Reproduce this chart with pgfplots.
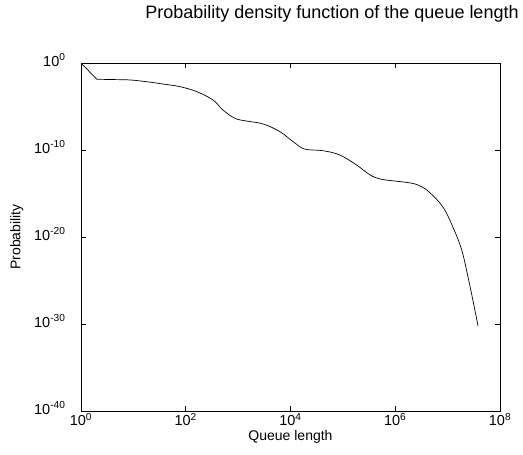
\documentclass[border=0pt]{standalone}
\usepackage{pgfplots}
\pgfplotsset{compat=1.18}
\usepackage{fontspec}
\setmainfont{Liberation Sans}
\begin{document}
\begin{tikzpicture}
\begin{loglogaxis}[
  scale only axis, width=419pt, height=348pt,
  xmin=1, xmax=1e8, ymin=1e-40, ymax=1,
  xtick={1,1e2,1e4,1e6,1e8},
  xticklabels={10\textsuperscript{0},10\textsuperscript{2},10\textsuperscript{4},10\textsuperscript{6},10\textsuperscript{8}},
  ytick={1e-40,1e-30,1e-20,1e-10,1},
  yticklabels={10\textsuperscript{-40},10\textsuperscript{-30},10\textsuperscript{-20},10\textsuperscript{-10},10\textsuperscript{0}},
  xminorticks=false, yminorticks=false,
  tick align=inside, major tick length=5pt,
  tick style={black, line width=0.6pt},
  axis line style={black, line width=0.8pt},
  ticklabel style={font=\fontsize{14.5}{16}\selectfont},
  yticklabel style={xshift=-12pt, yshift=3pt},
  xticklabel style={yshift=1pt},
  xlabel={Queue length}, ylabel={Probability},
  label style={font=\fontsize{14}{15}\selectfont},
  xlabel style={yshift=3pt},
  ylabel style={yshift=4pt},
  title={Probability density function of the queue length},
  title style={font=\fontsize{18}{20}\selectfont, at={(0.599,1.124)}, anchor=center},
]
\addplot[black, line width=0.7pt] coordinates {(1,1) (2.0,1.35e-2)};
\addplot[black, line width=0.7pt, smooth, tension=0.6] coordinates {
(2.0,1.35e-2) (4.07,1.25e-2) (8.71,1.12e-2) (17.8,7.08e-3) (36.3,3.89e-3)
(77.6,1.91e-3) (162,5.13e-4) (331,5.62e-5) (513,3.98e-6) (871,4.37e-7)
(1445,2.14e-7) (3020,9.77e-8) (6310,1.26e-8) (11220,9.12e-10) (18620,1.29e-10)
(41690,8.32e-11) (87100,2.69e-11) (1.82e5,1.91e-12) (3.31e5,1.35e-13) (5.13e5,4.68e-14)
(7.94e5,3.16e-14) (2.0e6,1.58e-14) (3.16e6,6.31e-15) (4.57e6,1.26e-15) (8.13e6,2.82e-17)
(1.26e7,1.41e-19) (1.86e7,3.16e-22) (2.45e7,2.51e-25) (3.02e7,6.31e-28) (3.80e7,6.31e-31)
};
\end{loglogaxis}
\pgfresetboundingbox
\path (current axis.south west) ++(-81pt,-43pt) coordinate (bl);
\path (current axis.north east) ++(23pt,63pt) coordinate (tr);
\useasboundingbox (bl) rectangle (tr);
\end{tikzpicture}
\end{document}
